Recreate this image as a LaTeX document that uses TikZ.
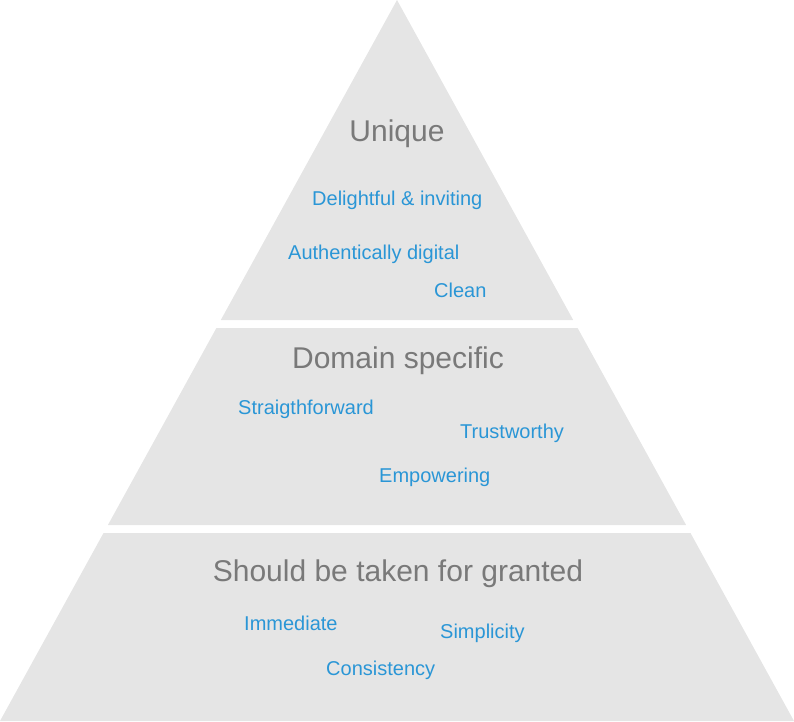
\documentclass[tikz,border=0pt]{standalone}
\usepackage{fontspec}
\setmainfont{Liberation Sans}
\usetikzlibrary{calc}
\definecolor{tierfill}{RGB}{229,229,229}
\definecolor{titlegray}{RGB}{121,121,121}
\definecolor{itemblue}{RGB}{42,150,214}
\tikzset{
  tier/.style={fill=tierfill, draw=none},
  tiertitle/.style={text=titlegray, font=\fontsize{30}{32}\selectfont, inner sep=0pt, anchor=center},
  item/.style={text=itemblue, font=\fontsize{20}{22}\selectfont, inner sep=0pt, anchor=west},
}
\begin{document}
\begin{tikzpicture}[x=1pt,y=-1pt]
\useasboundingbox (0,0) rectangle (794,721);
% outline of the whole pyramid
\coordinate (apex) at (397,0);
\coordinate (bl) at (0,721);
\coordinate (br) at (794,721);
% cut lines of the three tiers
\coordinate (l1) at ($(apex)!320/721!(bl)$);
\coordinate (r1) at ($(apex)!320/721!(br)$);
\coordinate (l2) at ($(apex)!328/721!(bl)$);
\coordinate (r2) at ($(apex)!328/721!(br)$);
\coordinate (l3) at ($(apex)!525/721!(bl)$);
\coordinate (r3) at ($(apex)!525/721!(br)$);
\coordinate (l4) at ($(apex)!533/721!(bl)$);
\coordinate (r4) at ($(apex)!533/721!(br)$);
% tiers
\fill[tier] (apex) -- (l1) -- (r1) -- cycle;
\fill[tier] (l2) -- (l3) -- (r3) -- (r2) -- cycle;
\fill[tier] (l4) -- (bl) -- (br) -- (r4) -- cycle;
% top tier
\node[tiertitle] (unique) at (397,134) {Unique};
\node[item] (delight) at (312,200.5) {Delightful \& inviting};
\node[item] (authentic) at (288,254.5) {Authentically digital};
\node[item] (clean) at (434,290) {Clean};
% middle tier
\node[tiertitle] (domain) at (398,361) {Domain specific};
\node[item] (straight) at (238,409.5) {Straigthforward};
\node[item] (trust) at (460,433.5) {Trustworthy};
\node[item] (empower) at (379,477.5) {Empowering};
% bottom tier
\node[tiertitle] (granted) at (398,574) {Should be taken for granted};
\node[item] (immediate) at (244,623.5) {Immediate};
\node[item] (simple) at (440,633.5) {Simplicity};
\node[item] (consist) at (326,670.5) {Consistency};
\end{tikzpicture}
\end{document}
